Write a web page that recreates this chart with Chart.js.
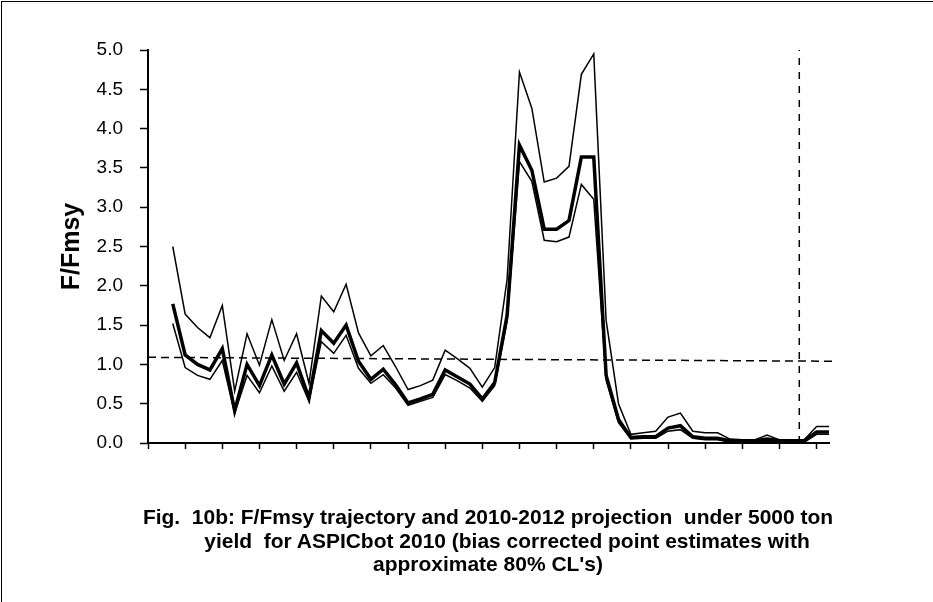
<!DOCTYPE html>
<html>
<head>
<meta charset="utf-8">
<script src="https://cdn.jsdelivr.net/npm/chart.js@4.4.1/dist/chart.umd.min.js"></script>
<style>
  html, body { margin: 0; padding: 0; background: #fff; }
  #wrap { position: relative; width: 933px; height: 602px; overflow: hidden; }
  #frame { position: absolute; left: 1px; top: 1px; width: 960px; height: 640px;
           border-top: 1px solid #000; border-left: 1px solid #000; }
  canvas { position: absolute; left: 0; top: 0; }
  .cap { position: absolute; width: 800px; text-align: center; white-space: pre; color: #000;
         line-height: 24px; font: bold 21px "Liberation Sans", Arial, sans-serif; }
</style>
</head>
<body>
<div id="wrap">
  <canvas id="chart" width="933" height="602"></canvas>
  <div id="frame"></div>
  <div class="cap" style="left:88px; top:505px;">Fig.  10b: F/Fmsy trajectory and 2010-2012 projection  under 5000 ton</div>
  <div class="cap" style="left:107px; top:529px;">yield  for ASPICbot 2010 (bias corrected point estimates with</div>
  <div class="cap" style="left:88px; top:552px;">approximate 80% CL's)</div>
</div>
<script>
// years of the trajectory (2010-2012 are the projection)
const years = [1959, 1960, 1961, 1962, 1963, 1964, 1965, 1966, 1967, 1968,
  1969, 1970, 1971, 1972, 1973, 1974, 1975, 1976, 1977, 1978,
  1979, 1980, 1981, 1982, 1983, 1984, 1985, 1986, 1987, 1988,
  1989, 1990, 1991, 1992, 1993, 1994, 1995, 1996, 1997, 1998,
  1999, 2000, 2001, 2002, 2003, 2004, 2005, 2006, 2007, 2008,
  2009, 2010, 2011, 2012];

// upper 80% CL
const upperCL = [2.50, 1.64, 1.47, 1.34, 1.75, 0.66, 1.39, 0.99, 1.57, 1.05,
  1.39, 0.76, 1.87, 1.67, 2.02, 1.40, 1.11, 1.24, 0.97, 0.68,
  0.73, 0.80, 1.18, 1.07, 0.95, 0.71, 0.96, 2.08, 4.72, 4.26,
  3.32, 3.37, 3.52, 4.69, 4.95, 1.56, 0.50, 0.11, 0.13, 0.15,
  0.33, 0.38, 0.15, 0.13, 0.13, 0.05, 0.04, 0.04, 0.10, 0.04,
  0.04, 0.04, 0.21, 0.21];

// bias corrected point estimate
const pointEst = [1.77, 1.12, 1.00, 0.93, 1.20, 0.41, 1.00, 0.73, 1.12, 0.75,
  1.02, 0.57, 1.43, 1.27, 1.50, 1.04, 0.81, 0.94, 0.74, 0.51,
  0.56, 0.62, 0.93, 0.84, 0.75, 0.56, 0.77, 1.62, 3.79, 3.47,
  2.72, 2.72, 2.83, 3.64, 3.64, 0.86, 0.30, 0.07, 0.08, 0.08,
  0.19, 0.22, 0.08, 0.06, 0.06, 0.03, 0.03, 0.03, 0.05, 0.03,
  0.03, 0.03, 0.14, 0.14];

// lower 80% CL
const lowerCL = [1.52, 0.96, 0.86, 0.81, 1.05, 0.38, 0.86, 0.64, 0.98, 0.66,
  0.90, 0.53, 1.29, 1.14, 1.37, 0.95, 0.76, 0.87, 0.70, 0.48,
  0.53, 0.58, 0.87, 0.79, 0.70, 0.53, 0.73, 1.55, 3.58, 3.33,
  2.58, 2.56, 2.62, 3.29, 3.10, 0.80, 0.26, 0.05, 0.06, 0.06,
  0.15, 0.17, 0.06, 0.04, 0.04, 0.01, 0.01, 0.01, 0.02, 0.01,
  0.01, 0.01, 0.11, 0.11];

// dashed reference line and start of projection
const refYears = [1957, 2012.5];
const refValues = [1.09, 1.04];
const projYear = 2009.6;

const xTickYears = [1957, 1960, 1963, 1966, 1969, 1972, 1975, 1978, 1981, 1984,
  1987, 1990, 1993, 1996, 1999, 2002, 2005, 2008, 2011];
const yTicks = [0, 0.5, 1.0, 1.5, 2.0, 2.5, 3.0, 3.5, 4.0, 4.5, 5.0];

// squeeze the caption to a narrow bold look (the original uses a condensed face)
(function () {
  const caps = document.querySelectorAll('.cap');
  const ctx = document.createElement('canvas').getContext('2d');
  ctx.font = 'bold 21px "Liberation Sans", Arial, sans-serif';
  const w = ctx.measureText(caps[0].textContent).width;
  const s = 690 / w;
  caps.forEach(c => { c.style.transform = 'scaleX(' + s.toFixed(3) + ')'; });
})();

const toPts = (xs, ys) => xs.map((x, i) => ({ x: x, y: ys[i] }));

const lineStyle = (w) => ({
  borderColor: '#000', borderWidth: w, pointRadius: 0, tension: 0, fill: false
});

new Chart(document.getElementById('chart').getContext('2d'), {
  type: 'line',
  data: {
    datasets: [
      Object.assign({ label: 'Upper CL', data: toPts(years, upperCL) }, lineStyle(1.5)),
      Object.assign({ label: 'Lower CL', data: toPts(years, lowerCL) }, lineStyle(1.5)),
      Object.assign({ label: 'F/Fmsy', data: toPts(years, pointEst) }, lineStyle(3.5)),
      Object.assign({ label: 'Reference', data: toPts(refYears, refValues), borderDash: [8, 5], clip: false }, lineStyle(1.5)),
      Object.assign({ label: 'Projection', data: toPts([projYear, projYear], [0, 5]), borderDash: [7, 7] }, lineStyle(1.5))
    ]
  },
  options: {
    responsive: false,
    animation: false,
    devicePixelRatio: 1,
    layout: { padding: { left: 0, top: 50, right: 104, bottom: 151 } },
    plugins: { legend: { display: false }, tooltip: { enabled: false } },
    scales: {
      x: {
        type: 'linear',
        min: 1957,
        max: 2012,
        afterBuildTicks: (s) => { s.ticks = xTickYears.map(v => ({ value: v })); },
        afterFit: (s) => { s.height = 8; },
        ticks: { display: false },
        grid: { drawOnChartArea: false, drawTicks: true, tickLength: 6, tickColor: '#000', tickWidth: 1.5 },
        border: { display: true, color: '#000', width: 2 }
      },
      y: {
        min: 0,
        max: 5,
        afterBuildTicks: (s) => { s.ticks = yTicks.map(v => ({ value: v })); },
        afterFit: (s) => { s.width = 148; },
        ticks: {
          color: '#000',
          padding: 17,
          font: { family: '"Liberation Sans", Arial, sans-serif', size: 19 },
          callback: (v) => Number(v).toFixed(1)
        },
        grid: { drawOnChartArea: false, drawTicks: true, tickLength: 8, tickColor: '#000', tickWidth: 1.5 },
        border: { display: true, color: '#000', width: 2 },
        title: {
          display: true,
          text: 'F/Fmsy',
          color: '#000',
          font: { family: '"Liberation Sans", Arial, sans-serif', size: 25, weight: 'bold' },
          padding: { top: 57, bottom: 0 }
        }
      }
    }
  }
});
</script>
</body>
</html>
